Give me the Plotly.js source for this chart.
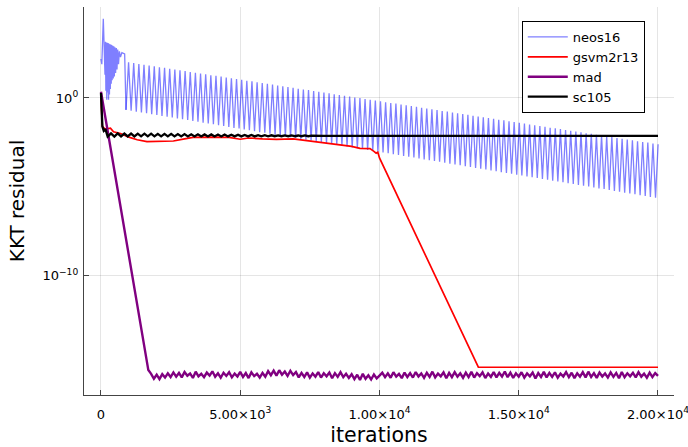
<!DOCTYPE html>
<html>
<head>
<meta charset="utf-8">
<script src="https://cdn.plot.ly/plotly-3.0.1.min.js"></script>
<style>html,body{margin:0;padding:0;background:#fff;}#chart{width:688px;height:447px;}</style>
</head>
<body>
<div id="chart"></div>
<script>
// ---- data (values are log10 of the KKT residual) ----
const xTickVals = [0, 5000, 10000, 15000, 20000];
const xTickText = ["0", "5.00×10<sup>3</sup>", "1.00×10<sup>4</sup>", "1.50×10<sup>4</sup>", "2.00×10<sup>4</sup>"];
const yTickVals = [1, 1e-10];
const yTickText = ["10<sup>0</sup>", "10<sup>−10</sup>"];

// neos16: erratic start
const neos16EarlyIter = [0, 30, 83, 110, 144, 160, 176, 192, 208, 224, 240, 256, 272, 288, 304, 320, 336, 352, 368, 384, 400, 420, 440, 460, 480, 500, 525, 550, 575, 600, 630, 660, 700, 750, 800, 850, 898];
const neos16EarlyLog = [2.2, 1.9, 4.45, 3.2, 1.3, 3.15, 0.4, 3.12, -0.1, 3.1, 0.3, 3.08, -0.1, 3.05, 0.2, 3.02, 0.5, 3.0, 0.8, 2.97, 1.0, 2.93, 1.1, 2.9, 1.2, 2.85, 1.4, 2.8, 1.6, 2.72, 1.9, 2.62, 2.3, 2.55, 2.5, 2.48, -0.67];
// neos16: regular oscillation, one trough then one peak per cycle
const neos16OscStartIter = 898;
const neos16OscHalfCycle = 92.3;
const neos16TroughLog = [-0.67, -0.72, -0.77, -0.81, -0.86, -0.91, -0.96, -1.01, -1.05, -1.10, -1.15, -1.20, -1.24, -1.29, -1.34, -1.39, -1.44, -1.48, -1.53, -1.58, -1.63, -1.68, -1.72, -1.77, -1.82, -1.87, -1.92, -1.96, -2.01, -2.06, -2.11, -2.15, -2.20, -2.25, -2.30, -2.35, -2.39, -2.44, -2.49, -2.54, -2.59, -2.63, -2.68, -2.73, -2.78, -2.83, -2.87, -2.92, -2.97, -3.02, -3.07, -3.11, -3.16, -3.21, -3.26, -3.30, -3.35, -3.40, -3.45, -3.50, -3.54, -3.59, -3.64, -3.69, -3.74, -3.78, -3.83, -3.88, -3.93, -3.98, -4.02, -4.07, -4.12, -4.17, -4.21, -4.26, -4.31, -4.36, -4.41, -4.45, -4.50, -4.55, -4.60, -4.65, -4.69, -4.74, -4.79, -4.84, -4.89, -4.93, -4.98, -5.03, -5.08, -5.12, -5.17, -5.22, -5.27, -5.32, -5.36, -5.41, -5.46, -5.51, -5.56, -5.60];
const neos16PeakLog = [2.00, 1.96, 1.91, 1.87, 1.82, 1.78, 1.73, 1.69, 1.64, 1.60, 1.55, 1.51, 1.46, 1.42, 1.37, 1.33, 1.28, 1.24, 1.20, 1.15, 1.11, 1.06, 1.02, 0.97, 0.93, 0.88, 0.84, 0.79, 0.75, 0.70, 0.66, 0.61, 0.57, 0.52, 0.48, 0.44, 0.39, 0.35, 0.30, 0.26, 0.21, 0.17, 0.12, 0.08, 0.03, -0.01, -0.06, -0.10, -0.15, -0.19, -0.24, -0.28, -0.32, -0.37, -0.41, -0.46, -0.50, -0.55, -0.59, -0.64, -0.68, -0.73, -0.77, -0.82, -0.86, -0.91, -0.95, -1.00, -1.04, -1.08, -1.13, -1.17, -1.22, -1.26, -1.31, -1.35, -1.40, -1.44, -1.49, -1.53, -1.58, -1.62, -1.67, -1.71, -1.75, -1.80, -1.84, -1.89, -1.93, -1.98, -2.02, -2.07, -2.11, -2.16, -2.20, -2.25, -2.29, -2.34, -2.38, -2.43, -2.47, -2.51, -2.56, -2.60];

// gsvm2r13
const gsvmIter = [0, 50, 150, 340, 450, 700, 1000, 1300, 1650, 2000, 2600, 3000, 3300, 4000, 4600, 5000, 5300, 5800, 6300, 6900, 7400, 7800, 8200, 8600, 9000, 9300, 9660, 9800, 9880, 9940, 10000, 13550, 20000];
const gsvmLog = [0.0, -1.6, -1.75, -1.7, -1.9, -2.0, -2.2, -2.35, -2.45, -2.45, -2.42, -2.3, -2.22, -2.2, -2.22, -2.32, -2.25, -2.3, -2.33, -2.3, -2.4, -2.48, -2.52, -2.6, -2.72, -2.83, -2.85, -3.0, -3.1, -3.05, -3.37, -15.13, -15.13];

// mad: sampled every 100 iterations from 0
const madStartIter = 0;
const madStepIter = 100;
const madLog = [0.35, -0.57, -1.49, -2.41, -3.33, -4.25, -5.17, -6.09, -7.01, -7.93, -8.85, -9.77, -10.69, -11.61, -12.53, -13.45, -14.37, -15.29,
  -15.50, -15.78, -15.55, -15.80, -15.52, -15.71, -15.47,
  -15.68, -15.42, -15.66, -15.45, -15.70, -15.40, -15.61, -15.48, -15.73, -15.38, -15.64, -15.50, -15.69, -15.43, -15.60, -15.36, -15.67, -15.47, -15.72, -15.44, -15.62, -15.41, -15.70, -15.49, -15.65, -15.39, -15.68, -15.46, -15.74, -15.42, -15.63, -15.50, -15.71, -15.45, -15.66,
  -15.35, -15.58, -15.32, -15.60, -15.30, -15.55, -15.37, -15.62, -15.33, -15.57, -15.40,
  -15.70, -15.45, -15.68, -15.42, -15.72, -15.48, -15.66, -15.40, -15.71, -15.47, -15.64, -15.43, -15.75, -15.46, -15.67, -15.41, -15.69, -15.50, -15.73,
  -15.52, -15.80, -15.55, -15.85, -15.50, -15.78, -15.58, -15.82, -15.54, -15.76, -15.60,
  -15.44, -15.69, -15.47, -15.72, -15.41, -15.66, -15.50, -15.74, -15.43, -15.68,
  -15.46, -15.71, -15.40, -15.65, -15.48, -15.73, -15.44, -15.67, -15.38, -15.70,
  -15.49, -15.64, -15.42, -15.75, -15.45, -15.69, -15.41, -15.66, -15.47, -15.72,
  -15.43, -15.68, -15.39, -15.71, -15.46, -15.63, -15.42, -15.74, -15.48, -15.67,
  -15.40, -15.70, -15.45, -15.65, -15.37, -15.69, -15.44, -15.73, -15.47, -15.66,
  -15.41, -15.71, -15.48, -15.64, -15.43, -15.76, -15.46, -15.68, -15.39, -15.70,
  -15.45, -15.67, -15.42, -15.72, -15.49, -15.65, -15.40, -15.69, -15.44, -15.74,
  -15.47, -15.66, -15.41, -15.70, -15.38, -15.68, -15.46, -15.73, -15.43, -15.65,
  -15.48, -15.71, -15.42, -15.67, -15.45, -15.75, -15.40, -15.69, -15.47, -15.64,
  -15.44, -15.70, -15.41, -15.66, -15.49, -15.72, -15.43, -15.68, -15.46, -15.62];

// sc105
const sc105Iter = [0, 50, 100, 160, 240, 360, 480, 600, 720, 840, 960, 1080, 1200, 1320, 1440, 1560, 1680, 1800, 1920, 2040, 2160, 2280, 2400, 2520, 2640, 2760, 2880, 3000, 3120, 3240, 3360, 3480, 3600, 3720, 3840, 3960, 4080, 4200, 4320, 4440, 4560, 4680, 4800, 4920, 5040, 5160, 5280, 5400, 5520, 5640, 5760, 5880, 6000, 6120, 6240, 6360, 6480, 6600, 6720, 6840, 6960, 7080, 7200, 7320, 7440, 7560, 8000, 12000, 16000, 20000];
const sc105Log = [0.28, -1.6, -1.85, -1.75, -2.17, -1.99, -2.17, -1.99, -2.16, -2.00, -2.16, -2.00, -2.16, -2.01, -2.16, -2.01, -2.16, -2.01, -2.16, -2.02, -2.16, -2.02, -2.16, -2.02, -2.16, -2.03, -2.16, -2.03, -2.16, -2.04, -2.16, -2.04, -2.16, -2.05, -2.16, -2.05, -2.16, -2.06, -2.16, -2.06, -2.16, -2.07, -2.16, -2.07, -2.16, -2.08, -2.16, -2.08, -2.16, -2.09, -2.16, -2.09, -2.16, -2.10, -2.15, -2.10, -2.15, -2.10, -2.15, -2.11, -2.15, -2.11, -2.15, -2.11, -2.15, -2.12, -2.13, -2.13, -2.13, -2.13];

// ---- build ----
const toValue = arr => arr.map(v => Math.pow(10, v));
const neos16Osc = [];
for (let k = 0; k < neos16PeakLog.length; k++) {
  neos16Osc.push(neos16TroughLog[k], neos16PeakLog[k]);
}

const FONT = "DejaVu Sans, sans-serif";
const traces = [
  { x: neos16EarlyIter, y: toValue(neos16EarlyLog), mode: "lines", name: "neos16", legendgroup: "neos16",
    line: { color: "rgba(0,0,255,0.5)", width: 1.3 } },
  { x0: neos16OscStartIter, dx: neos16OscHalfCycle, y: toValue(neos16Osc), mode: "lines", name: "neos16",
    legendgroup: "neos16", showlegend: false, line: { color: "rgba(0,0,255,0.5)", width: 1.3 } },
  { x: gsvmIter, y: toValue(gsvmLog), mode: "lines", name: "gsvm2r13", line: { color: "#ff0000", width: 1.7 } },
  { x0: madStartIter, dx: madStepIter, y: toValue(madLog), mode: "lines", name: "mad", line: { color: "#800080", width: 2.4 } },
  { x: sc105Iter, y: toValue(sc105Log), mode: "lines", name: "sc105", line: { color: "#000000", width: 2.3 } }
];

const layout = {
  width: 688, height: 447,
  margin: { l: 84, r: 14, t: 7, b: 52 },
  paper_bgcolor: "#fff", plot_bgcolor: "#fff",
  font: { family: FONT, color: "#000" },
  showlegend: true,
  legend: {
    x: 0.742, y: 0.964, xanchor: "left", yanchor: "top",
    bordercolor: "#000", borderwidth: 1, bgcolor: "#fff",
    font: { family: FONT, size: 13, color: "#000" },
    itemwidth: 40, tracegroupgap: 0
  },
  xaxis: {
    range: [-610, 20575],
    tickmode: "array", tickvals: xTickVals, ticktext: xTickText,
    ticks: "inside", ticklen: 5, tickcolor: "#444", tickwidth: 1,
    ticklabeloverflow: "allow", ticklabelstandoff: 7,
    showline: true, linecolor: "#444", linewidth: 1.2, mirror: false,
    showgrid: true, gridcolor: "rgba(0,0,0,0.1)", gridwidth: 1, zeroline: false,
    tickfont: { family: FONT, size: 13, color: "#000" },
    title: { text: "iterations", font: { family: FONT, size: 20.5, color: "#000" }, standoff: 6 }
  },
  yaxis: {
    type: "log",
    range: [-16.69, 5.11],
    tickmode: "array", tickvals: yTickVals, ticktext: yTickText,
    ticks: "inside", ticklen: 5, tickcolor: "#444", tickwidth: 1,
    ticklabeloverflow: "allow", ticklabelstandoff: 2,
    showline: true, linecolor: "#444", linewidth: 1.2, mirror: false,
    showgrid: true, gridcolor: "rgba(0,0,0,0.1)", gridwidth: 1, zeroline: false,
    tickfont: { family: FONT, size: 13, color: "#000" },
    title: { text: "KKT residual", font: { family: FONT, size: 20, color: "#000" }, standoff: 12 }
  }
};

Plotly.newPlot("chart", traces, layout, { staticPlot: true, displayModeBar: false });
</script>
</body>
</html>
